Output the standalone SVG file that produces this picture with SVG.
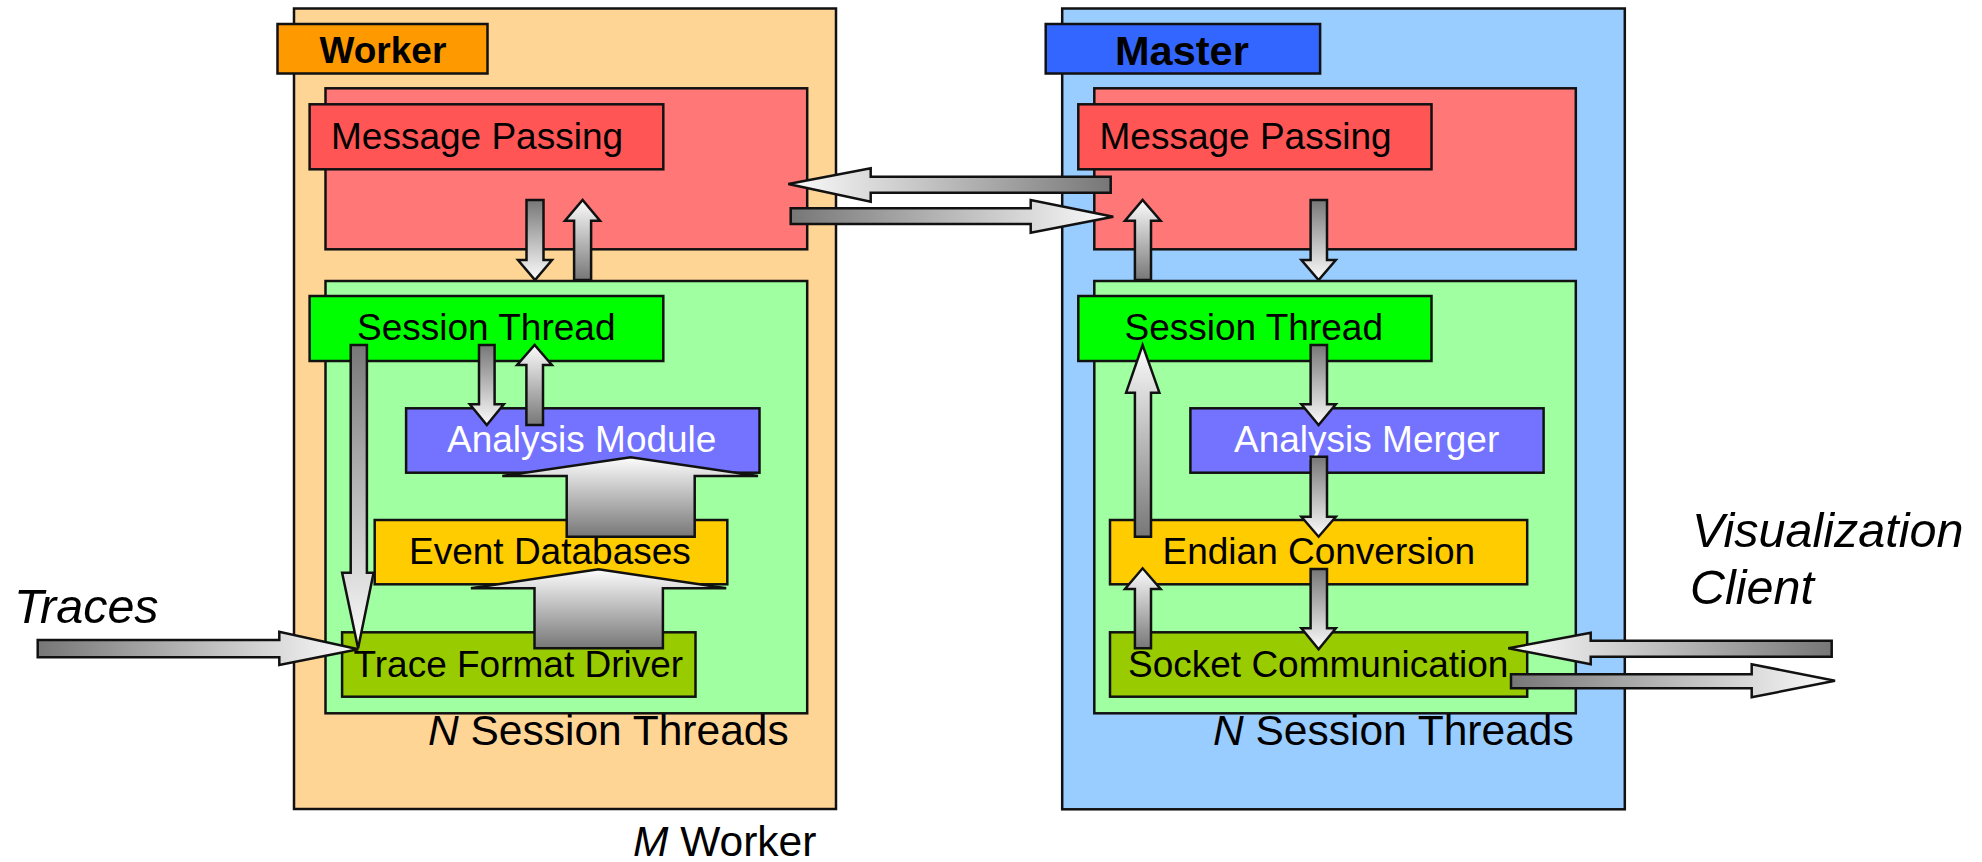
<svg xmlns="http://www.w3.org/2000/svg" width="1982" height="862" viewBox="0 0 1982 862">
  <defs>
    <!-- arrow fills: grey at the tail, white at the tip -->
    <linearGradient id="gDown" x1="0" y1="0" x2="0" y2="1">
      <stop offset="0" stop-color="#777"/>
      <stop offset="1" stop-color="#fcfcfc"/>
    </linearGradient>
    <linearGradient id="gUp" x1="0" y1="1" x2="0" y2="0">
      <stop offset="0" stop-color="#777"/>
      <stop offset="1" stop-color="#fcfcfc"/>
    </linearGradient>
    <linearGradient id="gRight" x1="0" y1="0" x2="1" y2="0">
      <stop offset="0" stop-color="#777"/>
      <stop offset="1" stop-color="#fcfcfc"/>
    </linearGradient>
    <linearGradient id="gLeft" x1="1" y1="0" x2="0" y2="0">
      <stop offset="0" stop-color="#777"/>
      <stop offset="1" stop-color="#fcfcfc"/>
    </linearGradient>
  </defs>
  <style>
    .box { stroke: #111; stroke-width: 2.5; }
    polygon { stroke: #111; stroke-width: 2.5; stroke-linejoin: miter; }
    text { font-family: "Liberation Sans", Arial, sans-serif; fill: #000; }
    .lbl { font-size: 37px; }
    .white { fill: #fff; }
    .title { font-weight: bold; }
    .note { font-size: 42.5px; }
    .ext { font-size: 48.5px; font-style: italic; }
    .it { font-style: italic; }
    .worker { fill: #FFD596; }
    .master { fill: #99CCFF; }
    .mpOuter { fill: #FF7777; }
    .mpInner { fill: #FF5555; }
    .stOuter { fill: #A0FFA0; }
    .session { fill: #00FF00; }
    .analysis { fill: #7373FF; }
    .db { fill: #FFCC00; }
    .driver { fill: #99CC00; }
  </style>

  <rect width="1982" height="862" fill="#fff"/>

  <!-- ===== Worker side ===== -->
  <g id="worker">
    <rect class="box worker" x="294" y="8.5" width="542" height="800.5"/>
    <rect class="box" x="277.5" y="24" width="210" height="49.5" fill="#FF9900"/>
    <text class="title" x="319.5" y="63.3" font-size="37">Worker</text>
  </g>
  <g id="worker-messaging">
    <rect class="box mpOuter" x="325.5" y="88.3" width="481.7" height="161"/>
    <rect class="box mpInner" x="309.6" y="104.3" width="353.7" height="65"/>
    <text class="lbl" x="331" y="149">Message Passing</text>
  </g>
  <g id="worker-threads">
    <rect class="box stOuter" x="325.5" y="281" width="481.7" height="432.3"/>
    <text class="note" x="428" y="745"><tspan class="it">N</tspan> Session Threads</text>
  </g>
  <g id="worker-session">
    <rect class="box session" x="309.6" y="296" width="353.7" height="65"/>
    <text class="lbl" x="357" y="340">Session Thread</text>
  </g>
  <g id="worker-analysis">
    <rect class="box analysis" x="406.1" y="408.3" width="353.4" height="64.4"/>
    <text class="lbl white" x="447" y="451.7">Analysis Module</text>
  </g>
  <g id="worker-db">
    <rect class="box db" x="374.7" y="520" width="352.6" height="64.3"/>
    <text class="lbl" x="409" y="564">Event Databases</text>
  </g>
  <g id="worker-driver">
    <rect class="box driver" x="342.1" y="632.3" width="353.4" height="64.4"/>
    <text class="lbl" x="353.5" y="676.7">Trace Format Driver</text>
  </g>
  <g id="worker-count">
    <text class="note" x="633" y="856"><tspan class="it">M</tspan> Worker</text>
  </g>

  <!-- ===== Master side ===== -->
  <g id="master">
    <rect class="box master" x="1062.2" y="8.5" width="562.6" height="800.8"/>
    <rect class="box" x="1045.7" y="24" width="274.4" height="49.5" fill="#3366FF"/>
    <text class="title" x="1115" y="65" font-size="41.5">Master</text>
  </g>
  <g id="master-messaging">
    <rect class="box mpOuter" x="1094.3" y="88.3" width="481.5" height="161"/>
    <rect class="box mpInner" x="1078.3" y="104.3" width="353.2" height="65"/>
    <text class="lbl" x="1099.5" y="149">Message Passing</text>
  </g>
  <g id="master-threads">
    <rect class="box stOuter" x="1094.3" y="281" width="481.5" height="432.3"/>
    <text class="note" x="1213" y="745"><tspan class="it">N</tspan> Session Threads</text>
  </g>
  <g id="master-session">
    <rect class="box session" x="1078.3" y="296" width="353.2" height="65"/>
    <text class="lbl" x="1124.5" y="340">Session Thread</text>
  </g>
  <g id="master-merger">
    <rect class="box analysis" x="1190.4" y="408.3" width="353.2" height="64.4"/>
    <text class="lbl white" x="1234" y="451.7">Analysis Merger</text>
  </g>
  <g id="master-endian">
    <rect class="box db" x="1110" y="520" width="417.2" height="64.3"/>
    <text class="lbl" x="1162.5" y="564">Endian Conversion</text>
  </g>
  <g id="master-socket">
    <rect class="box driver" x="1110" y="632.3" width="417.2" height="64.4"/>
    <text class="lbl" x="1128" y="676.7">Socket Communication</text>
  </g>

  <!-- ===== external endpoints ===== -->
  <g id="traces">
    <text class="ext" x="14" y="623.3">Traces</text>
  </g>
  <g id="visualization-client">
    <text class="ext" x="1692" y="546.7">Visualization</text>
    <text class="ext" x="1690" y="604">Client</text>
  </g>

  <!-- ===== connectors ===== -->
  <g id="connectors">
    <!-- worker: message passing <-> session thread -->
    <polygon fill="url(#gDown)" points="526.5,200 543.5,200 543.5,260 552,260 535,280 518,260 526.5,260"/>
    <polygon fill="url(#gUp)" points="574.1,280 591.1,280 591.1,220.7 600,220.7 582.6,200 565,220.7 574.1,220.7"/>
    <!-- worker: session thread <-> analysis module -->
    <polygon fill="url(#gDown)" points="479,345 494.6,345 494.6,404.3 503.8,404.3 486.8,425 469.8,404.3 479,404.3"/>
    <polygon fill="url(#gUp)" points="526.4,425 543,425 543,365 551.9,365 534.6,345 517.1,365 526.4,365"/>
    <!-- worker: session thread -> trace format driver -->
    <polygon fill="url(#gDown)" points="350.7,345 366.9,345 366.9,572.7 373.6,572.7 358.1,648.3 342.1,572.7 350.7,572.7"/>
    <!-- worker: event databases -> analysis module -->
    <polygon fill="url(#gUp)" points="566.7,536.7 694.7,536.7 694.7,476 758,476 630.7,457.3 502.3,476 566.7,476"/>
    <!-- worker: trace format driver -> event databases -->
    <polygon fill="url(#gUp)" points="534.5,648.3 662.9,648.3 662.9,588.3 726.2,588.3 598.5,569.3 470.9,588.3 534.5,588.3"/>
    <!-- traces -> trace format driver -->
    <polygon fill="url(#gRight)" points="37.7,640 279.3,640 279.3,631.7 358.3,649.3 279.3,665 279.3,657.3 37.7,657.3"/>

    <!-- master <-> worker message passing -->
    <polygon fill="url(#gLeft)" points="1110.7,176.7 870.7,176.7 870.7,168.3 788.3,184 870.7,201.7 870.7,192.7 1110.7,192.7"/>
    <polygon fill="url(#gRight)" points="790.7,208.3 1030.7,208.3 1030.7,200 1113.3,216.7 1030.7,232.7 1030.7,224 790.7,224"/>

    <!-- master: session thread <-> message passing -->
    <polygon fill="url(#gUp)" points="1134.9,280 1151,280 1151,220.7 1160.6,220.7 1142.6,200 1125,220.7 1134.9,220.7"/>
    <polygon fill="url(#gDown)" points="1310.6,200 1327,200 1327,260 1335.8,260 1318.6,280 1301.4,260 1310.6,260"/>
    <!-- master: session thread -> analysis merger -> endian conversion -->
    <polygon fill="url(#gDown)" points="1310.6,345 1327,345 1327,404.3 1335.8,404.3 1318.6,425 1301.4,404.3 1310.6,404.3"/>
    <polygon fill="url(#gDown)" points="1310.6,456.7 1327,456.7 1327,516.7 1335.8,516.7 1318.6,536.7 1301.4,516.7 1310.6,516.7"/>
    <!-- master: endian conversion -> session thread -->
    <polygon fill="url(#gUp)" points="1134.9,536.7 1151,536.7 1151,392.7 1159.4,392.7 1142.6,345 1126.1,392.7 1134.9,392.7"/>
    <!-- master: socket communication <-> endian conversion -->
    <polygon fill="url(#gUp)" points="1134.9,648.3 1151,648.3 1151,589 1160.6,589 1142.6,568.3 1125,589 1134.9,589"/>
    <polygon fill="url(#gDown)" points="1310.6,569 1327,569 1327,628.3 1335.8,628.3 1318.6,649.3 1301.4,628.3 1310.6,628.3"/>

    <!-- visualization client <-> socket communication -->
    <polygon fill="url(#gLeft)" points="1831.7,640.7 1590.7,640.7 1590.7,632.7 1508.3,648.3 1590.7,664.3 1590.7,656.7 1831.7,656.7"/>
    <polygon fill="url(#gRight)" points="1511,674.3 1751.7,674.3 1751.7,664.3 1835,680.7 1751.7,697.3 1751.7,688.3 1511,688.3"/>
  </g>
</svg>
